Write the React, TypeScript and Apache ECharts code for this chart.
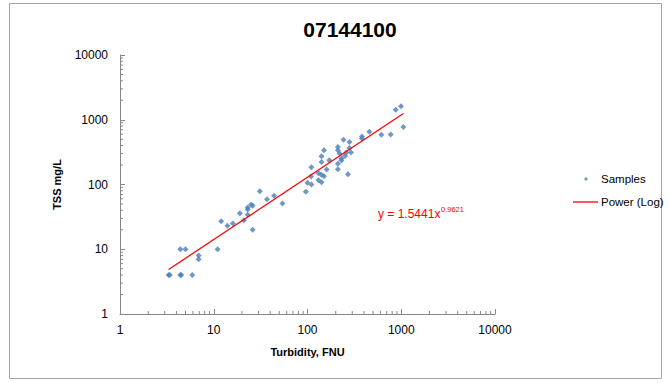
import React, { useEffect, useRef } from "react";
import * as echarts from "echarts";

const title = "07144100";
const xAxisName = "Turbidity, FNU";
const yAxisName = "TSS mg/L";
const seriesNames = ["Samples", "Power (Log)"];

// Samples: turbidity (FNU) and TSS (mg/L)
const turbidity = [
  3.3, 3.4, 4.4, 4.5, 5.9, 4.4, 5.0, 6.9, 6.9, 11, 12, 14, 16, 19, 21, 23, 23, 23, 25, 26, 26, 31, 37, 44, 54,
  96, 100, 110, 109, 110, 131, 131, 141, 141, 150, 141, 141, 150, 160, 171, 211, 211, 211, 211, 220, 230, 230,
  242, 251, 260, 270, 280, 280, 291, 381, 381, 457, 614, 771, 873, 994, 1054,
];
const tss = [
  4, 4, 4, 4, 4, 10, 10, 8, 7, 10, 27, 23, 25, 36, 28, 34, 41, 44, 49, 47, 20, 79, 59, 67, 51,
  77, 106, 100, 133, 185, 149, 116, 141, 108, 134, 223, 272, 337, 170, 237, 172, 210, 337, 379, 300, 251, 234,
  492, 275, 311, 144, 366, 452, 311, 515, 553, 653, 588, 594, 1425, 1620, 770,
];

// Power trendline as printed on the chart: y = 1.5441 x^0.9621
const fitCoef = 1.5441;
const fitExp = 0.9621;
const fitRange = [3.3, 1054];
const equationMain = "y = 1.5441x";
const equationSup = "0.9621";

// Axis range and minor tick multipliers (log axis, base 10)
const axisMin = 1;
const axisMax = 10000;
const minorMultipliers = [2, 3, 4, 5, 6, 7, 8, 9];

export default function App() {
  const ref = useRef<HTMLDivElement>(null);

  useEffect(() => {
    if (!ref.current) return;
    const chart = echarts.init(ref.current, null, { renderer: "svg" });

    const minorVals: number[] = [];
    for (let d = axisMin; d < axisMax; d *= 10) {
      minorMultipliers.forEach((m) => minorVals.push(d * m));
    }

    const font = "'Liberation Sans', Arial, sans-serif";
    const axisColor = "#868686";

    const samples = turbidity.map((x, i) => [x, tss[i]]);
    const fitLine = fitRange.map((x) => [x, fitCoef * Math.pow(x, fitExp)]);

    const axisCommon = {
      type: "log",
      logBase: 10,
      min: axisMin,
      max: axisMax,
      nameLocation: "middle",
      nameTextStyle: { fontFamily: font, fontSize: 11, fontWeight: "bold", color: "#000" },
      axisLine: { show: true, lineStyle: { color: axisColor, width: 1 } },
      axisTick: { show: true, inside: true, length: 5, lineStyle: { color: axisColor } },
      axisLabel: {
        fontFamily: font,
        fontSize: 12,
        color: "#000",
        formatter: (v: number) => String(Math.round(v)),
      },
      splitLine: { show: false },
      minorTick: { show: false },
    };

    chart.setOption({
      animation: false,
      backgroundColor: "#fff",
      title: {
        text: title,
        left: 345,
        top: 14,
        textAlign: "center",
        textStyle: { fontFamily: font, fontSize: 21, fontWeight: "bold", color: "#000" },
      },
      grid: { left: 120, right: 175, top: 55, bottom: 69, containLabel: false },
      xAxis: {
        ...axisCommon,
        name: xAxisName,
        nameGap: 32,
        axisLabel: { ...axisCommon.axisLabel, margin: 10 },
      },
      yAxis: {
        ...axisCommon,
        name: yAxisName,
        nameGap: 58,
        axisLabel: { ...axisCommon.axisLabel, margin: 12 },
      },
      legend: [
        {
          data: [{ name: seriesNames[0], icon: "diamond" }],
          left: 584,
          top: 173,
          padding: 0,
          itemWidth: 4,
          itemHeight: 4,
          textStyle: { fontFamily: font, fontSize: 11.5, color: "#000", padding: [0, 0, 0, 8] },
        },
        {
          data: [{ name: seriesNames[1], icon: "rect", itemStyle: { color: "#ff0000" } }],
          left: 573,
          top: 196,
          padding: 0,
          itemWidth: 25,
          itemHeight: 1.3,
          textStyle: { fontFamily: font, fontSize: 11.5, color: "#000", padding: [0, 0, 0, -2] },
        },
      ],
      series: [
        {
          name: seriesNames[0],
          type: "scatter",
          symbol: "diamond",
          symbolSize: 6,
          itemStyle: { color: "#4a7ebb" },
          data: samples,
          z: 3,
        },
        {
          name: seriesNames[1],
          type: "line",
          symbol: "none",
          lineStyle: { color: "#ff0000", width: 1.25 },
          itemStyle: { color: "#ff0000" },
          data: fitLine,
          z: 4,
        },
        {
          type: "custom",
          silent: true,
          clip: false,
          data: minorVals.map((v) => [v, axisMin]),
          renderItem: (_p: any, api: any) => {
            const pt = api.coord([api.value(0), api.value(1)]);
            return {
              type: "line",
              shape: { x1: pt[0], y1: pt[1], x2: pt[0], y2: pt[1] - 3 },
              style: { stroke: axisColor, lineWidth: 1 },
            };
          },
        },
        {
          type: "custom",
          silent: true,
          clip: false,
          data: minorVals.map((v) => [axisMin, v]),
          renderItem: (_p: any, api: any) => {
            const pt = api.coord([api.value(0), api.value(1)]);
            return {
              type: "line",
              shape: { x1: pt[0], y1: pt[1], x2: pt[0] + 3, y2: pt[1] },
              style: { stroke: axisColor, lineWidth: 1 },
            };
          },
        },
      ],
      graphic: [
        {
          type: "rect",
          shape: { x: 9.5, y: 3.5, width: 652, height: 375 },
          style: { fill: "none", stroke: "#a6a6a6", lineWidth: 1 },
          silent: true,
        },
        {
          type: "text",
          left: 378,
          top: 208,
          style: { text: equationMain, font: `12px ${font}`, fill: "#ff0000" },
        },
        {
          type: "text",
          left: 441,
          top: 205,
          style: { text: equationSup, font: `7.5px ${font}`, fill: "#ff0000" },
        },
      ],
    });

    return () => chart.dispose();
  }, []);

  return (
    <div
      ref={ref}
      style={{ position: "fixed", left: 0, top: 0, width: 670, height: 383 }}
    />
  );
}
